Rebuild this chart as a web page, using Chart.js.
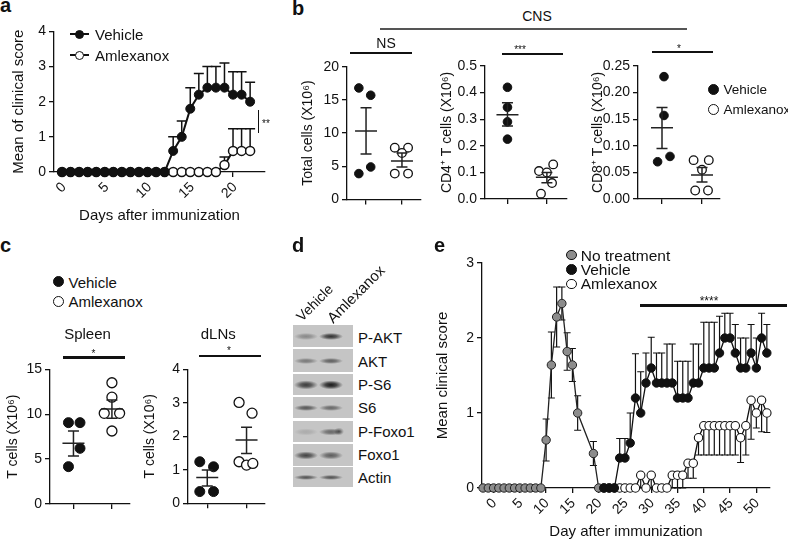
<!DOCTYPE html>
<html>
<head>
<meta charset="utf-8">
<script src="https://cdn.jsdelivr.net/npm/chart.js@4.4.1/dist/chart.umd.min.js"></script>
<style>
  body { margin:0; width:788px; height:541px; overflow:hidden; position:relative; background:#fff;
         font-family:"Liberation Sans", Arial, sans-serif; color:#111; }
  canvas { position:absolute; }
  .t { position:absolute; white-space:nowrap; line-height:1; }
  .ln { position:absolute; background:#111; }
  .dot { position:absolute; border-radius:50%; box-sizing:border-box; }
  .row { position:absolute; left:293px; width:60px; }
</style>
</head>
<body>
<canvas id="chA"></canvas>
<canvas id="chB1"></canvas>
<canvas id="chB2"></canvas>
<canvas id="chB3"></canvas>
<canvas id="chC1"></canvas>
<canvas id="chC2"></canvas>
<canvas id="chE"></canvas>
<div id="overlay"></div>
<script>
// ---- a: clinical score, days 0-22
const aDays = [0,1,2,3,4,5,6,7,8,9,10,11,12,13,14,15,16,17,18,19,20,21,22];
const aVehicle   = [0,0,0,0,0,0,0,0,0,0,0,0,0,0.6,1.0,1.8,2.2,2.4,2.4,2.4,2.2,2.2,2.0];
const aVehicleHi = [0,0,0,0,0,0,0,0,0,0,0,0,0,1.0,1.45,2.4,2.8,3.0,3.0,3.1,2.85,2.85,2.55];
const aAmlex     = [0,0,0,0,0,0,0,0,0,0,0,0,0,0,0,0,0,0,0,0.2,0.6,0.6,0.6];
const aAmlexHi   = [0,0,0,0,0,0,0,0,0,0,0,0,0,0,0,0,0,0,0,0.43,1.23,1.23,1.23];
const aTicksX = [0,5,10,15,20];
const aTicksY = [0,1,2,3,4];

// ---- b: CNS cell counts (vehicle / amlexanox)
const b1Veh = [16.8, 15.7, 3.9, 4.9];
const b1Aml = [7.8, 7.8, 7.0, 3.9, 3.9];
const b1Mean = [10.3, 5.8];
const b1Lo = [6.85, 4.9];
const b1Hi = [13.8, 7.0];
const b1Ticks = [0,5,10,15,20];

const b2Veh = [0.42, 0.345, 0.29, 0.225];
const b2Aml = [0.13, 0.105, 0.10, 0.06, 0.02];
const b2Mean = [0.317, 0.082];
const b2Lo = [0.274, 0.061];
const b2Hi = [0.362, 0.10];
const b2Ticks = [0,0.1,0.2,0.3,0.4,0.5];

const b3Veh = [0.23, 0.157, 0.08, 0.07];
const b3Aml = [0.073, 0.073, 0.055, 0.016, 0.016];
const b3Mean = [0.134, 0.045];
const b3Lo = [0.095, 0.032];
const b3Hi = [0.172, 0.059];
const b3Ticks = [0,0.05,0.10,0.15,0.20,0.25];

// ---- c: spleen / dLNs T cells
const c1Veh = [9.06, 9.06, 6.2, 4.16];
const c1Aml = [13.5, 11.9, 10.1, 10.1, 8.13];
const c1Mean = [6.76, 10.58];
const c1Lo = [5.35, 9.54];
const c1Hi = [8.13, 11.58];
const c1Ticks = [0,5,10,15];

const c2Veh = [1.24, 1.09, 0.35, 0.35];
const c2Aml = [3.01, 2.69, 1.24, 1.14, 1.19];
const c2Mean = [0.77, 1.89];
const c2Lo = [0.52, 1.49];
const c2Hi = [0.995, 2.27];
const c2Ticks = [0,1,2,3,4];

// ---- d: blot rows
const blotRows = ["P-AKT","AKT","P-S6","S6","P-Foxo1","Foxo1","Actin"];
const blotLanes = ["Vehicle","Amlexanox"];

// ---- e: long course
const eGreyDays = [-2,-1,0,1,2,3,4,5,6,7,8,9,10,11,12,13,14,15,16,19,20];
const eGrey     = [0,0,0,0,0,0,0,0,0,0,0,0,0.64,1.64,2.28,2.46,1.82,1.64,1.0,0.46,0];
const eGreySem  = [0,0,0,0,0,0,0,0,0,0,0,0,0.28,0.44,0.4,0.22,0.25,0.22,0.23,0.16,0];
const eTrtDays = [21,22,23,24,25,26,27,28,29,30,31,32,33,34,35,36,37,38,39,40,41,42,43,44,45,46,47,48,49,50,51,52];
const eVeh   = [0,0,0,0.4,0.4,0.6,1.2,1.0,1.4,1.6,1.4,1.4,1.4,1.4,1.2,1.2,1.2,1.4,1.4,1.6,1.6,1.6,1.8,2.0,2.0,1.8,1.6,1.6,1.8,1.6,2.0,1.8];
const eVehHi = [0,0,0,0.66,0.66,1.0,1.79,1.55,1.8,2.01,1.8,1.8,1.92,1.92,1.69,1.69,1.69,1.92,1.92,2.21,2.21,2.21,2.29,2.33,2.33,2.18,2.0,2.0,2.18,2.0,2.33,2.18];
const eAml   = [0,0,0,0,0,0,0,0.17,0,0.17,0,0,0,0.17,0.17,0.17,0.33,0.33,0.67,0.83,0.83,0.83,0.83,0.83,0.83,0.83,0.67,0.83,1.17,1.0,1.17,1.0];
const eAmlLo = [0,0,0,0,0,0,0,0,0,0,0,0,0,0,0,0,0.13,0.13,0.44,0.44,0.44,0.44,0.44,0.44,0.44,0.44,0.34,0.44,0.65,0.8,0.75,0.74];
const eTicksX = [0,5,10,15,20,25,30,35,40,45,50];
const eTicksY = [0,1,2,3];

const FONT = '"Liberation Sans", Arial, sans-serif';
const INK = '#111';
Chart.defaults.font.family = FONT;
Chart.defaults.color = INK;

// scatter jitter (layout only)
const jit4a = [-0.2, 0.13, -0.2, 0.13];
const jit5a = [-0.2, 0.17, 0, -0.2, 0.17];

// error bars on line charts
const errBars = {
  id: 'errBars',
  beforeDatasetsDraw(chart, args, opts) {
    const { ctx, scales: { x, y } } = chart;
    ctx.save();
    ctx.strokeStyle = INK;
    ctx.lineWidth = opts.lw;
    chart.data.datasets.forEach(ds => {
      ds.data.forEach((p, i) => {
        const px = x.getPixelForValue(p.x), py = y.getPixelForValue(p.y);
        [ds.errHi, ds.errLo].forEach(arr => {
          if (!arr || arr[i] === p.y) return;
          const e = y.getPixelForValue(arr[i]);
          ctx.beginPath();
          ctx.moveTo(px, py); ctx.lineTo(px, e);
          ctx.moveTo(px - opts.cap, e); ctx.lineTo(px + opts.cap, e);
          ctx.stroke();
        });
      });
    });
    ctx.restore();
  }
};

// mean +/- SEM on dot plots
const meanSem = {
  id: 'meanSem',
  afterDatasetsDraw(chart, args, opts) {
    const { ctx, scales: { x, y } } = chart;
    ctx.save();
    ctx.strokeStyle = '#222';
    ctx.lineWidth = 1.5;
    opts.mean.forEach((m, g) => {
      const px = x.getPixelForValue(g);
      const pm = y.getPixelForValue(m), lo = y.getPixelForValue(opts.lo[g]), hi = y.getPixelForValue(opts.hi[g]);
      ctx.beginPath();
      ctx.moveTo(px - opts.mw, pm); ctx.lineTo(px + opts.mw, pm);
      ctx.moveTo(px, lo); ctx.lineTo(px, hi);
      ctx.moveTo(px - opts.cw, lo); ctx.lineTo(px + opts.cw, lo);
      ctx.moveTo(px - opts.cw, hi); ctx.lineTo(px + opts.cw, hi);
      ctx.stroke();
    });
    ctx.restore();
  }
};

function yAxis(min, max, ticks, dec, title, tsize, tpad) {
  return {
    type: 'linear', min: min, max: max,
    afterBuildTicks: s => { s.ticks = ticks.map(v => ({ value: v })); },
    ticks: { color: INK, font: { size: 14 }, padding: 3, callback: v => Number(v).toFixed(dec) },
    grid: { display: true, drawOnChartArea: false, drawTicks: true, tickLength: 5, color: INK, lineWidth: 1.3 },
    border: { display: true, color: INK, width: 1.3 },
    title: { display: true, text: title, color: INK, font: { size: tsize }, padding: { top: tpad, bottom: 0 } }
  };
}

function xAxis(min, max, ticks, labels, title, shift) {
  return {
    type: 'linear', min: min, max: max,
    afterBuildTicks: s => { s.ticks = ticks.map(v => ({ value: v })); },
    ticks: { display: labels, color: INK, font: { size: 14 }, minRotation: 45, maxRotation: 45, padding: 2, labelOffset: shift || 0 },
    grid: { display: true, drawOnChartArea: false, drawTicks: true, tickLength: 5, color: INK, lineWidth: 1.3 },
    border: { display: true, color: INK, width: 1.3 },
    title: { display: !!title, text: title || '', color: INK, font: { size: 15 }, padding: { top: 2, bottom: 0 } }
  };
}

// place a canvas and force the plot area to a given rectangle
function build(id, box, area, cfg) {
  const cv = document.getElementById(id);
  cv.width = box[2]; cv.height = box[3];
  cv.style.left = box[0] + 'px'; cv.style.top = box[1] + 'px';
  cv.style.width = box[2] + 'px'; cv.style.height = box[3] + 'px';
  cfg.options.responsive = false;
  cfg.options.animation = false;
  cfg.options.devicePixelRatio = 1;
  cfg.options.layout = { padding: { left: 0, top: area[1] - box[1], right: box[0] + box[2] - area[2], bottom: 0 } };
  cfg.options.scales.y.afterFit = s => { s.width = area[0] - box[0]; };
  cfg.options.scales.x.afterFit = s => { s.height = box[1] + box[3] - area[3]; };
  cfg.options.plugins = Object.assign({ legend: { display: false }, tooltip: { enabled: false } }, cfg.options.plugins);
  return new Chart(cv, cfg);
}

function pts(xs, ys) { return ys.map((v, i) => ({ x: xs[i], y: v })); }

// ---- chart a
build('chA', [0, 20, 290, 205], [54, 30, 265, 172], {
  type: 'scatter',
  data: { datasets: [
    { data: pts(aDays, aVehicle), errHi: aVehicleHi, showLine: true, borderColor: INK, backgroundColor: INK,
      borderWidth: 2, pointRadius: 4.5, pointBorderWidth: 1, clip: false },
    { data: pts(aDays, aAmlex), errHi: aAmlexHi, showLine: true, borderColor: INK, backgroundColor: '#fff',
      borderWidth: 2, pointRadius: 4.5, pointBorderWidth: 1.5, clip: false }
  ] },
  options: {
    scales: {
      x: xAxis(-0.94, 23.74, aTicksX, true, 'Days after immunization', 2),
      y: yAxis(0, 4, aTicksY, 0, 'Mean of clinical score', 15, 10)
    },
    plugins: { errBars: { lw: 1.5, cap: 5 } }
  },
  plugins: [errBars]
});

// ---- dot plots
function dots(id, box, area, xr, veh, aml, vj, aj, mean, lo, hi, ticks, dec, ymax, title, tpad, r) {
  return build(id, box, area, {
    type: 'scatter',
    data: { datasets: [
      { data: veh.map((v, i) => ({ x: vj[i], y: v })), backgroundColor: INK, borderColor: INK, pointRadius: r, clip: false },
      { data: aml.map((v, i) => ({ x: 1 + aj[i], y: v })), backgroundColor: '#fff', borderColor: INK, borderWidth: 1.3, pointRadius: r, clip: false }
    ] },
    options: {
      scales: { x: xAxis(xr[0], xr[1], [0, 1], false), y: yAxis(0, ymax, ticks, dec, title, 14, tpad) },
      plugins: { meanSem: { mean: mean, lo: lo, hi: hi, mw: 11, cw: 5.5 } }
    },
    plugins: [meanSem]
  });
}

dots('chB1', [290, 40, 140, 175], [347, 66.7, 421, 199.5], [-0.53, 1.53], b1Veh, b1Aml, jit4a, jit5a,
     b1Mean, b1Lo, b1Hi, b1Ticks, 0, 20, 'Total cells (X10\u2076)', 9.6, 4.3);
dots('chB2', [430, 40, 145, 175], [485, 66, 567, 199], [-0.57, 1.51], b2Veh, b2Aml, [0, 0, 0, 0], [0.16, -0.2, 0, 0.13, -0.15],
     b2Mean, b2Lo, b2Hi, b2Ticks, 1, 0.5, 'CD4\u207a T cells (X10\u2076)', 8.6, 4.3);
dots('chB3', [580, 40, 150, 175], [638, 66, 720, 199], [-0.6, 1.45], b3Veh, b3Aml, [0.05, 0.05, 0.2, -0.11], [-0.21, 0.17, 0, -0.17, 0.15],
     b3Mean, b3Lo, b3Hi, b3Ticks, 2, 0.25, 'CD8\u207a T cells (X10\u2076)', 9.6, 4.3);
dots('chC1', [0, 340, 140, 190], [50, 369.3, 130, 504], [-0.61, 1.47], c1Veh, c1Aml, [-0.13, 0.17, 0.17, -0.13], [0, 0, -0.2, 0.2, 0],
     c1Mean, c1Lo, c1Hi, c1Ticks, 0, 15, 'T cells (X10\u2076)', 4.6, 5);
dots('chC2', [140, 340, 140, 190], [188, 369.3, 265, 503.3], [-0.49, 1.47], c2Veh, c2Aml, [-0.19, 0.16, -0.19, 0.16], [-0.19, 0.14, -0.19, 0, 0.16],
     c2Mean, c2Lo, c2Hi, c2Ticks, 0, 4, 'T cells (X10\u2076)', 1.6, 5);

// ---- chart e
build('chE', [430, 240, 358, 301], [482, 263, 770, 488], {
  type: 'scatter',
  data: { datasets: [
    { data: pts(eTrtDays, eVeh), errHi: eVehHi, showLine: true, borderColor: INK, backgroundColor: INK,
      borderWidth: 1.3, pointRadius: 4.2, pointBorderWidth: 1, clip: false },
    { data: pts(eTrtDays, eAml), errLo: eAmlLo, showLine: true, borderColor: INK, backgroundColor: '#fff',
      borderWidth: 1.3, pointRadius: 4.2, pointBorderWidth: 1.1, clip: false },
    { data: pts(eGreyDays, eGrey), errHi: eGrey.map((v, i) => v + eGreySem[i]), errLo: eGrey.map((v, i) => v - eGreySem[i]),
      showLine: true, borderColor: '#222', backgroundColor: '#8c8c8c',
      borderWidth: 1.3, pointRadius: 4.2, pointBorderWidth: 1, clip: false }
  ] },
  options: {
    scales: {
      x: xAxis(-2.2, 52.6, eTicksX, true, 'Day after immunization', 1),
      y: yAxis(0, 3, eTicksY, 0, 'Mean clinical score', 15, 4)
    },
    plugins: { errBars: { lw: 1.2, cap: 3.5 } }
  },
  plugins: [errBars]
});

// ---- overlay text, legends, significance marks, blot
const ov = document.getElementById('overlay');
function txt(s, x, base, size, o) {
  o = o || {};
  const d = document.createElement('div');
  d.className = 't';
  d.textContent = s;
  d.style.fontSize = size + 'px';
  d.style.left = x + 'px';
  d.style.top = (base - 0.8465 * size) + 'px';
  if (o.bold) d.style.fontWeight = 'bold';
  if (o.center) d.style.transform = 'translateX(-50%)';
  if (o.rot) { d.style.transformOrigin = '0 ' + (0.8465 * size) + 'px'; d.style.transform = 'rotate(' + o.rot + 'deg)'; }
  ov.appendChild(d);
}
function line(x1, y1, x2, y2, w, c) {
  const d = document.createElement('div');
  d.className = 'ln';
  if (y1 === y2) { d.style.left = x1 + 'px'; d.style.width = (x2 - x1) + 'px'; d.style.top = (y1 - w / 2) + 'px'; d.style.height = w + 'px'; }
  else { d.style.top = y1 + 'px'; d.style.height = (y2 - y1) + 'px'; d.style.left = (x1 - w / 2) + 'px'; d.style.width = w + 'px'; }
  if (c) d.style.background = c;
  ov.appendChild(d);
}
function dot(cx, cy, r, fill, bw) {
  const d = document.createElement('div');
  d.className = 'dot';
  d.style.left = (cx - r) + 'px'; d.style.top = (cy - r) + 'px';
  d.style.width = 2 * r + 'px'; d.style.height = 2 * r + 'px';
  d.style.background = fill; d.style.border = bw + 'px solid #111';
  ov.appendChild(d);
}

// panel letters
txt('a', 0, 11.7, 20, { bold: true });
txt('b', 292, 15, 20, { bold: true });
txt('c', 0, 251.7, 20, { bold: true });
txt('d', 292, 251.7, 20, { bold: true });
txt('e', 434, 251.7, 20, { bold: true });

// a legend + significance
line(70, 34, 89, 34, 2); dot(79.5, 34, 4.5, '#111', 1);
txt('Vehicle', 95, 39.8, 15);
line(70, 55, 89, 55, 2); dot(79.5, 55, 4.5, '#fff', 1.5);
txt('Amlexanox', 95, 60.8, 15);
line(258.3, 110, 258.3, 133.3, 1.3);
txt('**', 262, 127, 10);

// b header + marks + legend
txt('CNS', 537, 21, 14, { center: true });
line(380, 29, 687, 29, 1.3, '#555');
txt('NS', 386, 48.3, 14, { center: true });
line(350, 52.8, 412, 52.8, 2.6);
txt('***', 520, 53.2, 10, { center: true });
line(502, 53.8, 563, 53.8, 2.6);
txt('*', 679, 52.2, 10, { center: true });
line(652, 52, 713, 52, 2.6);
dot(713.3, 89.3, 5.5, '#111', 1);
txt('Vehicle', 723.5, 94.3, 13.5);
dot(713.3, 109.5, 5.5, '#fff', 1.3);
txt('Amlexanox', 723.5, 114.8, 13.5);

// c legend + titles + marks
dot(58.3, 281.7, 5.5, '#111', 1);
txt('Vehicle', 68.5, 287.3, 15);
dot(58.3, 301.7, 5.5, '#fff', 1.3);
txt('Amlexanox', 68.5, 306.7, 15);
txt('Spleen', 87.5, 338.5, 15, { center: true });
txt('dLNs', 218.3, 338.3, 15, { center: true });
txt('*', 93.5, 357.2, 10, { center: true });
line(62.7, 357.5, 125, 357.5, 2.6);
txt('*', 229, 354.2, 10, { center: true });
line(199.3, 355.8, 261, 355.8, 2.6);

// d blot
const rowY = [[325, 347], [349, 372], [374, 395], [397, 418], [421, 442], [444, 466], [467, 487]];
const band = [[0.35, 0.85, 3.5], [0.45, 0.6, 3], [0.8, 1.0, 4.5], [0.65, 0.55, 3], [0.15, 0.55, 3.5], [0.75, 0.6, 4], [0.65, 0.65, 2.5]];
rowY.forEach((r, i) => {
  const d = document.createElement('div');
  d.className = 'row';
  d.style.top = r[0] + 'px';
  d.style.height = (r[1] - r[0]) + 'px';
  const b = band[i];
  const g = (cx, a) => 'radial-gradient(12px ' + b[2] + 'px at ' + cx + 'px 52%, rgba(25,25,25,' + a + ') 0%, rgba(25,25,25,' + (a * 0.75) + ') 45%, rgba(25,25,25,0) 100%)';
  let bg = g(13, b[0]) + ',' + g(38, b[1]);
  if (i === 4) bg = 'radial-gradient(5px 4px at 46px 50%, rgba(20,20,20,0.6), rgba(20,20,20,0) 100%),' + bg;
  d.style.background = bg + ', #c5c5c5';
  ov.appendChild(d);
  txt(blotRows[i], 358, [343, 366.7, 390, 413, 436.7, 459.5, 483][i], 15);
});
txt(blotLanes[0], 302, 322, 14, { rot: -45 });
txt(blotLanes[1], 333, 324, 15, { rot: -45 });

// e legend + significance
dot(571.7, 255, 5.3, '#8c8c8c', 1);
txt('No treatment', 580.7, 260.7, 15.5);
dot(571.7, 269.5, 5.3, '#111', 1);
txt('Vehicle', 580.7, 275, 15.5);
dot(571.7, 284, 5.3, '#fff', 1.2);
txt('Amlexanox', 580.7, 289.3, 15.5);
txt('****', 709, 305, 12, { center: true });
line(640, 305.8, 787, 305.8, 3);
</script>
</body>
</html>
